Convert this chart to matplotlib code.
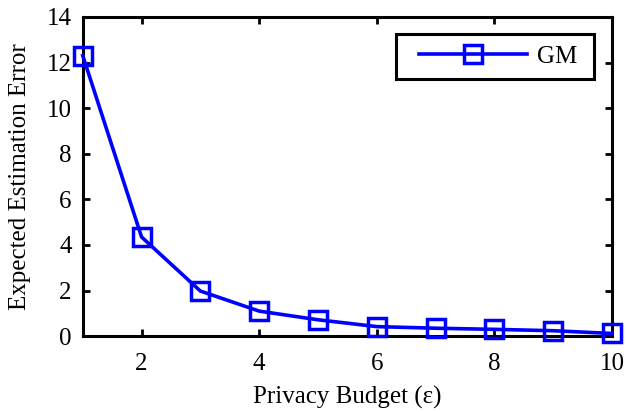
import matplotlib
matplotlib.use('Agg')
import matplotlib.pyplot as plt
from matplotlib.legend_handler import HandlerLine2D

# Privacy budget vs expected estimation error
epsilon = [1, 2, 3, 4, 5, 6, 7, 8, 9, 10]
gm_error = [12.3, 4.35, 1.98, 1.1, 0.72, 0.42, 0.35, 0.3, 0.24, 0.12]

xticks = [2, 4, 6, 8, 10]
yticks = [0, 2, 4, 6, 8, 10, 12, 14]

plt.rcParams['font.family'] = ['Liberation Serif', 'DejaVu Serif']

fig = plt.figure(figsize=(6.27, 4.12), dpi=100)
ax = fig.add_axes([0.132, 0.184, 0.844, 0.775])

line, = ax.plot(epsilon, gm_error, color='#0000ff', linewidth=2.6, marker='s', markersize=12.5,
                markerfacecolor='none', markeredgewidth=2.5, markeredgecolor='#0000ff', label='GM ',
                clip_on=False, zorder=5)

ax.set_xlim(1, 10)
ax.set_ylim(0, 14)
ax.set_xticks(xticks)
ax.set_yticks(yticks)
ax.tick_params(direction='in', top=True, right=True, length=5, width=2, labelsize=18)
ax.tick_params(axis='x', pad=12)
ax.tick_params(axis='y', pad=8)
for s in ax.spines.values():
    s.set_linewidth(2.2)

ax.set_xlabel('Privacy Budget (\u03b5)', fontsize=18, labelpad=8)
ax.set_ylabel('Expected Estimation Error', fontsize=18, labelpad=11)

# extra left padding inside the legend box, like the original
leg = ax.legend(loc='upper right', fontsize=18, fancybox=False, framealpha=1,
                edgecolor='black', handlelength=4.76, borderaxespad=0.7,
                borderpad=0.45, handletextpad=0.4,
                handler_map={line: HandlerLine2D(xpad=0.44)})
leg.get_frame().set_linewidth(2.2)

fig.savefig('out.png', dpi=100)
